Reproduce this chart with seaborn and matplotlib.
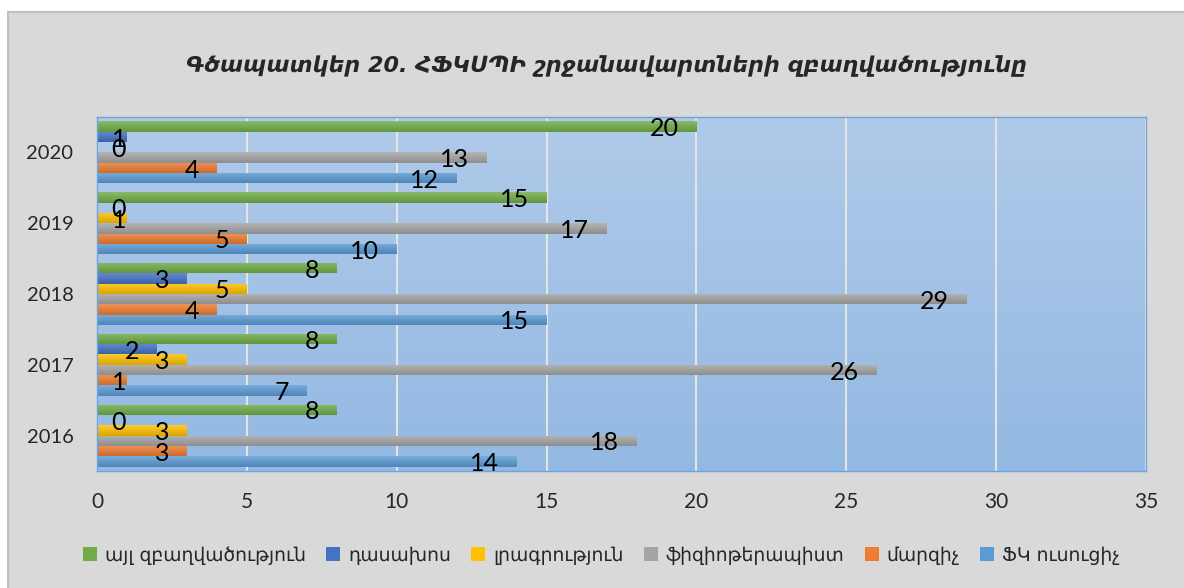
import numpy as np
import pandas as pd
import matplotlib
matplotlib.use('Agg')
import matplotlib.pyplot as plt
import seaborn as sns
from matplotlib.patches import Rectangle, Patch
from matplotlib.colors import to_rgb

# Data
years = ['2016', '2017', '2018', '2019', '2020']
fk_teacher = [14, 7, 15, 10, 12]
coach = [3, 1, 4, 5, 4]
physio = [18, 26, 29, 17, 13]
journalism = [3, 3, 5, 1, 0]
lecturer = [0, 2, 3, 0, 1]
other = [8, 8, 8, 15, 20]

series_names = ['այլ զբաղվածություն', 'դասախոս', 'լրագրություն',
                'ֆիզիոթերապիստ', 'մարզիչ', 'ՖԿ ուսուցիչ']
series_values = [other, lecturer, journalism, physio, coach, fk_teacher]
series_colors = ['#70ad47', '#4472c4', '#ffc000', '#a5a5a5', '#ed7d31', '#5b9bd5']
title = 'Գծապատկեր 20. ՀՖԿՍՊԻ շրջանավարտների զբաղվածությունը'

rows = []
for name, vals in zip(series_names, series_values):
    for yr, v in zip(years, vals):
        rows.append({'year': yr, 'series': name, 'value': v})
df = pd.DataFrame(rows)

sns.set_style('white')
plt.rcParams['font.family'] = ['Lato', 'DejaVu Sans']

fig = plt.figure(figsize=(11.84, 5.88), dpi=100, facecolor='white')
# outer chart frame
fig.patches.append(Rectangle((8 / 1184, -0.05), 1.2, 1.05 - 12 / 588,
                             transform=fig.transFigure, facecolor='#d9d9d9',
                             edgecolor='#bfbfbf', lw=1.5, zorder=-1))

ax = fig.add_axes([97 / 1184, 1 - 471 / 588, (1146 - 97) / 1184, (471 - 117) / 588])

sns.barplot(data=df, x='value', y='year', hue='series', orient='h',
            order=years[::-1], hue_order=series_names,
            palette=series_colors, width=0.875, saturation=1,
            legend=False, ax=ax)

ax.set_xlim(0, 35)
ylim = ax.get_ylim()

# plot-area vertical gradient
top_c = np.array([176, 202, 233]) / 255
bot_c = np.array([147, 185, 227]) / 255
t = np.linspace(0, 1, 256)[:, None, None]
grad = top_c * (1 - t) + bot_c * t
ax.imshow(grad, extent=(0, 1, 0, 1), transform=ax.transAxes, aspect='auto',
          origin='upper', zorder=-2)
ax.patch.set_visible(False)

# shade each bar a bit lighter at top, darker at bottom
for cont, col in zip(ax.containers, series_colors):
    base = np.array(to_rgb(col))
    light = base + (1 - base) * 0.18
    dark = base * 0.86
    g = light * (1 - t) + dark * t
    for bar in cont:
        w = bar.get_width()
        if w <= 0:
            continue
        y0 = bar.get_y()
        y1 = y0 + bar.get_height()
        im = ax.imshow(g, extent=(0, w, max(y0, y1), min(y0, y1)), aspect='auto',
                       origin='upper', zorder=2)
        im.set_clip_path(bar)
        bar.set_alpha(0)

# data labels
for cont, vals in zip(ax.containers, series_values):
    for bar, yr in zip(cont, years[::-1]):
        v = vals[years.index(yr)]
        yc = bar.get_y() + bar.get_height() / 2
        ax.text(max(v - 0.58, 0.97), yc + 0.03, str(v), ha='right', va='center',
                fontsize=18, color='black', zorder=5)

ax.set_xlim(0, 35)
ax.set_ylim(ylim)
ax.set_xticks(range(0, 36, 5))
ax.grid(axis='x', color='#e4e4e4', lw=1.5, zorder=0.5)
ax.grid(axis='y', visible=False)
ax.set_axisbelow(True)
for s in ax.spines.values():
    s.set_color('#6fa3dc')
    s.set_linewidth(1)
ax.tick_params(axis='x', length=0, pad=15, labelsize=15)
ax.tick_params(axis='y', length=0, pad=17, labelsize=14.5)
ax.set_xlabel('')
ax.set_ylabel('')

fig.text(0.512, 0.888, title, ha='center', va='center', fontsize=16,
         fontweight='bold', fontstyle='italic', family=['DejaVu Sans'])

handles = [Patch(facecolor=c, edgecolor='none') for c in series_colors]
fig.legend(handles, series_names, loc='center', bbox_to_anchor=(0.508, 0.056),
           ncol=6, frameon=False, handlelength=0.75, handleheight=0.75,
           handletextpad=0.4, columnspacing=1.1,
           prop={'family': ['DejaVu Sans'], 'size': 13.5})

fig.savefig('out.png', dpi=100, facecolor='white')
